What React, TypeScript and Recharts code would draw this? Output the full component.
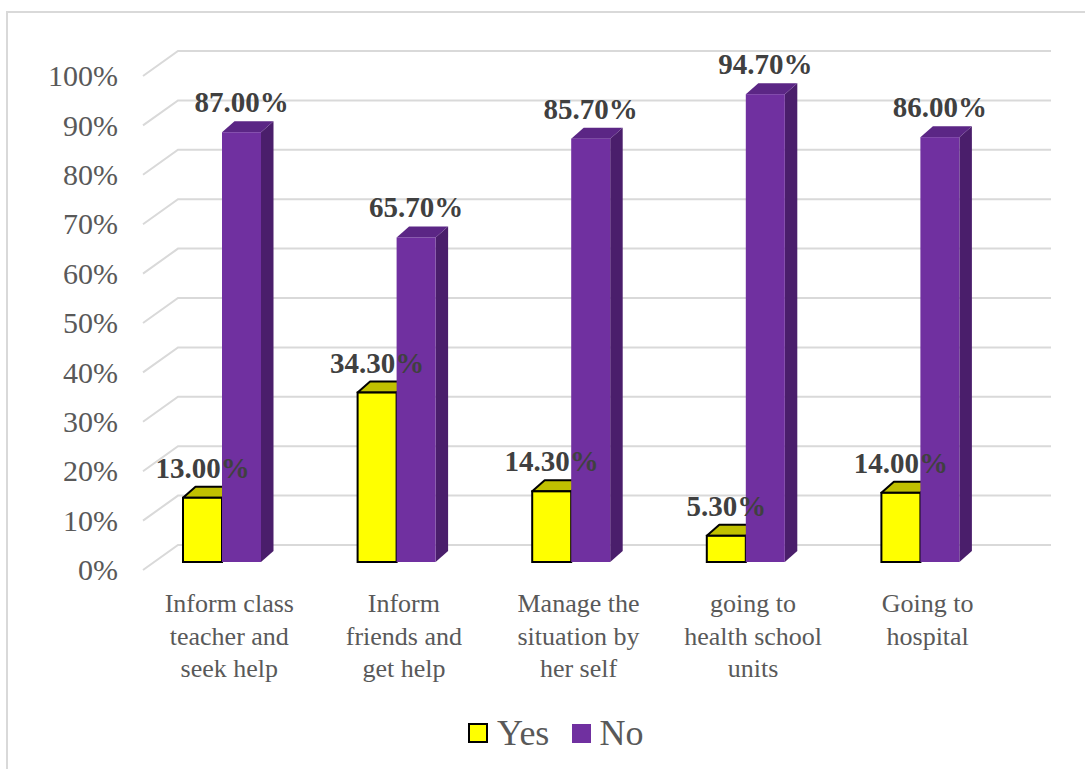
import { BarChart, Bar, XAxis, YAxis, CartesianGrid, Legend, LabelList } from "recharts";

const categoryLines = [
  ["Inform class", "teacher and", "seek help"],
  ["Inform", "friends and", "get help"],
  ["Manage the", "situation by", "her self"],
  ["going to", "health school", "units"],
  ["Going to", "hospital"],
];
const yesValues = [13.0, 34.3, 14.3, 5.3, 14.0];
const noValues = [87.0, 65.7, 85.7, 94.7, 86.0];
const yTicks = [0, 10, 20, 30, 40, 50, 60, 70, 80, 90, 100];

const data = categoryLines.map((lines, i) => ({
  name: lines.join(" "),
  yes: yesValues[i],
  no: noValues[i],
}));

const FONT = '"Liberation Serif", "Times New Roman", serif';
const DX = 12.5;
const DY = 11;

function Bar3D(props: any) {
  const { x, y, width, height, fill, topFill, sideFill, outline } = props;
  if (height == null || width == null) return null;
  const top = `M${x},${y} L${x + DX},${y - DY} L${x + width + DX},${y - DY} L${x + width},${y} Z`;
  const side = `M${x + width},${y} L${x + width + DX},${y - DY} L${x + width + DX},${y + height - DY} L${x + width},${y + height} Z`;
  return (
    <g>
      <path d={side} fill={sideFill} />
      <path d={top} fill={topFill} stroke={outline} strokeWidth={outline ? 2 : 0} strokeLinejoin="round" />
      <rect x={x} y={y} width={width} height={height} fill={fill} stroke={outline} strokeWidth={outline ? 2 : 0} />
    </g>
  );
}

const gridLine = (p: any) => {
  const y = p.y1;
  return (
    <path
      key={`grid-${p.index}-${y}`}
      d={`M143,${y + 8} L178,${y - 17} L1051,${y - 17}`}
      stroke="#d9d9d9"
      strokeWidth={2}
      fill="none"
    />
  );
};

const YTick = (p: any) => {
  const { y, payload } = p;
  return (
    <text x={118} y={y + 8} dy="0.34em" textAnchor="end" fill="#595959" fontSize={30} fontFamily={FONT}>
      {`${payload.value}%`}
    </text>
  );
};

const XTick = (p: any) => {
  const { x, y, payload, index } = p;
  const lines = categoryLines[index] ?? [payload.value];
  return (
    <text x={x + 7} y={y} textAnchor="middle" fill="#595959" fontSize={26} fontFamily={FONT}>
      {lines.map((l: string, i: number) => (
        <tspan key={i} x={x + 7} y={612 + i * 32.5}>
          {l}
        </tspan>
      ))}
    </text>
  );
};

// Both series' labels are drawn from the "No" series so they sit above every bar
const PairLabels = (p: any) => {
  const { x, y, width, height, index } = p;
  const base = y + height;
  const yesTop = base - (height * yesValues[index]) / noValues[index];
  const style = { fill: "#404040", fontSize: 29, fontWeight: 700, fontFamily: FONT } as const;
  return (
    <g>
      <text x={x - width / 2} y={yesTop - 20} textAnchor="middle" {...style}>
        {`${yesValues[index].toFixed(2)}%`}
      </text>
      <text x={x + width / 2} y={y - 20} textAnchor="middle" {...style}>
        {`${noValues[index].toFixed(2)}%`}
      </text>
    </g>
  );
};

const LegendContent = () => (
  <div
    style={{
      height: 60,
      boxSizing: "border-box",
      paddingTop: 8,
      paddingLeft: 468,
      display: "flex",
      alignItems: "center",
      fontFamily: FONT,
      fontSize: 36,
      color: "#595959",
    }}
  >
    <span style={{ width: 16, height: 16, background: "#FFFF00", border: "2px solid #000", display: "inline-block" }} />
    <span style={{ marginLeft: 9, lineHeight: "40px" }}>Yes</span>
    <span style={{ width: 19, height: 19, background: "#7030A0", display: "inline-block", marginLeft: 23 }} />
    <span style={{ marginLeft: 8, lineHeight: "40px" }}>No</span>
  </div>
);

export default function App() {
  return (
    <div
      style={{
        position: "absolute",
        left: 0,
        top: 0,
        width: 1085,
        height: 769,
        overflow: "hidden",
        background: "#ffffff",
      }}
    >
      <div
        style={{
          position: "absolute",
          left: 6,
          top: 11,
          width: 1200,
          height: 900,
          border: "2px solid #d9d9d9",
        }}
      />
      <div style={{ position: "absolute", left: 0, top: 0 }}>
        <BarChart
          width={1085}
          height={769}
          data={data}
          margin={{ top: 68, right: 77, bottom: 10, left: 0 }}
          barGap={0}
          barSize={39}
        >
          <CartesianGrid horizontal={gridLine} vertical={false} />
          <XAxis dataKey="name" axisLine={false} tickLine={false} tick={<XTick />} height={137} interval={0} />
          <YAxis
            domain={[0, 100]}
            ticks={yTicks}
            axisLine={false}
            tickLine={false}
            tick={<YTick />}
            width={135}
            interval={0}
          />
          <Legend verticalAlign="bottom" content={<LegendContent />} />
          <Bar
            dataKey="yes"
            name="Yes"
            fill="#FFFF00"
            isAnimationActive={false}
            shape={(p: any) => <Bar3D {...p} topFill="#C0C000" sideFill="#A0A000" outline="#000000" />}
          />
          <Bar
            dataKey="no"
            name="No"
            fill="#7030A0"
            isAnimationActive={false}
            shape={(p: any) => <Bar3D {...p} topFill="#5B2685" sideFill="#4A1E6B" />}
          >
            <LabelList dataKey="no" content={<PairLabels />} />
          </Bar>
        </BarChart>
      </div>
    </div>
  );
}
